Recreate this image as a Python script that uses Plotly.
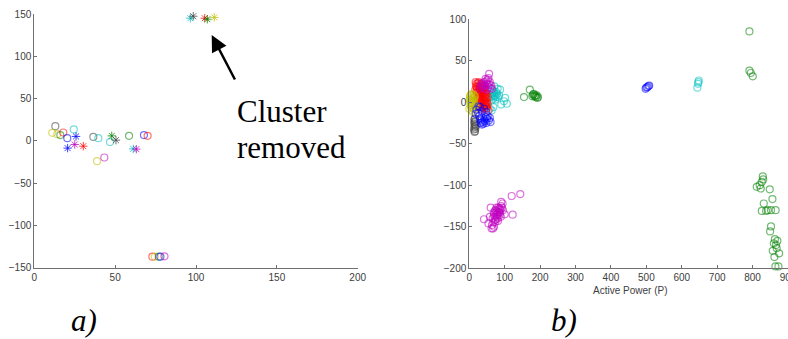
import plotly.graph_objects as go

W, H = 788, 339

# ---------------- data: panel a) ----------------
a_circle_pts = [(13.0, 17.4), (11.1, 9.5), (14.2, 7.9), (16.1, 6.8), (17.9, 9.9), (20.4, 3.2),
                (24.4, 13.5), (36.5, 4.7), (39.6, 3.2), (38.8, -24.0), (43.3, -19.7), (46.8, -1.5),
                (58.6, 5.9), (67.8, 6.8), (70.1, 5.9),
                (73.0, -137.0), (74.5, -137.0), (77.0, -137.0), (78.0, -137.0), (80.5, -136.5)]
a_circle_col = ["k", "y", "y", "g", "r", "b", "c", "k", "c", "y", "m", "c", "g", "b", "r",
                "r", "y", "g", "b", "m"]
a_star_pts = [(25.8, 5.2), (20.6, -8.6), (25.0, -4.3), (30.3, -6.3), (47.9, 5.9), (50.5, 0.8),
              (61.2, -9.5), (63.1, -9.8),
              (96.5, 145.0), (98.3, 147.4), (105.4, 145.0), (107.0, 143.8), (111.3, 146.0)]
a_star_col = ["b", "b", "m", "r", "g", "k", "c", "m", "c", "k", "r", "g", "y"]

a_xticks = [0, 50, 100, 150, 200]
a_yticks = [-150, -100, -50, 0, 50, 100, 150]

# ---------------- data: panel b) ----------------
b_red = [(20, 22), (24, 23), (27, 24), (30, 22), (33, 21), (36, 20), (39, 19), (42, 18), (22, 18), (26, 19),
         (29, 17), (32, 18), (35, 16), (38, 15), (41, 16), (44, 14), (21, 14), (25, 13), (28, 12), (31, 14),
         (34, 11), (37, 12), (40, 10), (43, 11), (46, 9), (23, 9), (27, 8), (30, 7), (33, 9), (36, 6),
         (39, 7), (42, 5), (45, 6), (48, 4), (26, 3), (29, 4), (32, 2), (35, 1), (38, 3), (41, 0),
         (44, 2), (47, -1), (50, 0), (28, -2), (32, -3), (36, -1), (40, -4), (44, -2), (48, -5), (52, -3),
         (32, -6), (37, -7), (42, -5), (47, -8), (35, -9), (40, -6), (45, -4), (50, -7), (54, -10),
         (17, 15), (19, 19), (22, 12), (18, 24), (48, 10), (52, 6), (24, 5)]
b_magenta = [(30, 16), (33, 20), (36, 18), (39, 22), (42, 24), (45, 20), (48, 25), (51, 22), (54, 18),
             (57, 21), (60, 17), (46, 28), (52, 27), (56, 34), (54, 29), (40, 19), (44, 16), (50, 15),
             (58, 24), (62, 20), (35, 23), (64, 16)]
b_magenta_low = [(66, -140), (70, -135), (74, -130), (78, -138), (82, -133), (86, -128), (90, -125),
                 (68, -145), (72, -142), (76, -136), (80, -140), (84, -132), (88, -130), (92, -127),
                 (64, -148), (70, -150), (74, -144), (78, -132), (82, -127), (86, -136), (71, -138),
                 (75, -141), (79, -135), (83, -129), (87, -133), (73, -131), (77, -127), (81, -143),
                 (69, -133), (89, -138), (95, -130),
                 (41.5, -141), (54, -146), (60.4, -127), (63, -152), (94, -122), (119.7, -113),
                 (144, -110.7), (122.5, -135.5), (100, -135), (58, -138), (90, -120), (67, -152)]
b_yellow = [(2, 6), (4, 2), (6, 8), (8, -2), (10, 4), (12, 0), (14, 6), (5, -6), (7, -10), (9, -4),
            (3, -1), (11, -8), (13, 2), (15, -3), (1, 3), (16, 7), (6, 10), (10, -12), (18, -5),
            (4, -4), (0, -8), (8, 5), (12, 9), (3, 8), (14, -8), (7, 0)]
b_black = [(14, -21), (15, -24), (16, -27), (15, -30), (17, -32), (16, -35), (14, -26), (18, -29),
           (13, -33), (17, -23), (15, -36), (16, -20)]
b_blue = [(30, -20), (34, -22), (38, -24), (42, -21), (46, -18), (50, -20), (36, -27), (40, -26),
          (44, -23), (48, -25), (52, -17), (32, -25), (55, -22), (58, -19), (60, -24), (28, -17),
          (20, -9), (25, -13), (30, -6), (35, -11), (18, -14), (42, -8), (48, -12), (26, -5),
          (498, 16), (506, 19.3), (503, 18), (508, 20), (500, 17.5)]
b_cyan = [(60, 6), (64, 10), (68, 4), (72, 8), (76, 12), (80, 6), (62, 2), (66, 14), (70, 12), (74, 3),
          (78, 10), (84, 8), (70, 7), (65, 7), (75, 6),
          (87, 15), (98, 1), (106, -2), (68, -6), (63, -10), (71, 19), (48, -3), (80, 16), (101, 5),
          (58, -8), (90, -3), (55, 14),
          (644, 17.3), (648, 26), (646, 22), (647, 24)]
b_green = [(154.5, 6), (171, 15), (180, 9), (184, 7), (188, 6), (192, 5), (182, 10), (186, 8),
           (178, 7), (190, 8), (194, 6),
           (791, 85), (791, 37.8), (795, 35), (800.5, 31),
           (828.8, -89.4), (811.8, -102), (823, -104), (826, -96), (848.5, -105), (856, -116.7),
           (831.6, -122), (826, -131), (843, -130), (852, -130), (865, -130), (838, -131),
           (852, -149.6), (849.5, -155.6), (870, -167), (860, -170), (866, -172), (875, -182),
           (857, -179), (861.6, -186.5), (864.5, -197.7), (873, -197.7), (868, -176), (863, -165),
           (830, -93), (820, -100)]

b_xticks = [0, 100, 200, 300, 400, 500, 600, 700, 800, 900]
b_yticks = [-200, -150, -100, -50, 0, 50, 100]

COL = {"r": "rgb(255,0,0)", "g": "rgb(0,128,0)", "b": "rgb(0,0,255)", "c": "rgb(0,191,191)",
       "m": "rgb(191,0,191)", "y": "rgb(191,191,0)", "k": "rgb(64,64,64)"}

fig = go.Figure()

# panel a
fig.add_trace(go.Scatter(x=[p[0] for p in a_circle_pts], y=[p[1] for p in a_circle_pts],
                         mode="markers", xaxis="x", yaxis="y", cliponaxis=False,
                         marker=dict(symbol="circle-open", size=7, opacity=0.55,
                                     color=[COL[c] for c in a_circle_col], line=dict(width=1.2))))
fig.add_trace(go.Scatter(x=[p[0] for p in a_star_pts], y=[p[1] for p in a_star_pts],
                         mode="markers", xaxis="x", yaxis="y", cliponaxis=False,
                         marker=dict(symbol="asterisk-open", size=7, opacity=0.75,
                                     color=[COL[c] for c in a_star_col], line=dict(width=1))))

# panel b
for pts, c in [(b_green, "g"), (b_cyan, "c"), (b_magenta_low, "m"), (b_red, "r"), (b_magenta, "m"),
               (b_yellow, "y"), (b_black, "k"), (b_blue, "b")]:
    fig.add_trace(go.Scatter(x=[p[0] for p in pts], y=[p[1] for p in pts], mode="markers",
                             xaxis="x2", yaxis="y2", cliponaxis=False,
                             marker=dict(symbol="circle-open", size=7, opacity=0.55,
                                         color=COL[c], line=dict(width=1.2))))

axis_common = dict(showgrid=False, zeroline=False, showline=True, linecolor="#707070", linewidth=1,
                   ticks="inside", ticklen=3, tickcolor="#707070", mirror=False, automargin=False,
                   tickfont=dict(family="Liberation Sans, Arial", size=10, color="#404040"))

fig.update_layout(
    width=W, height=H, margin=dict(l=0, r=0, t=0, b=0, autoexpand=False),
    paper_bgcolor="white", plot_bgcolor="white", showlegend=False,
    xaxis=dict(domain=[34.3 / W, 357.7 / W], range=[0, 200], tickvals=a_xticks, anchor="y", **axis_common),
    yaxis=dict(domain=[(H - 267.7) / H, (H - 14) / H], range=[-150, 150], tickvals=a_yticks,
               anchor="x", **axis_common),
    xaxis2=dict(domain=[469.3 / W, 1.0], range=[0, 900], tickvals=b_xticks, anchor="y2",
                ticklabeloverflow="allow", **axis_common),
    yaxis2=dict(domain=[(H - 268.3) / H, (H - 19) / H], range=[-200, 100], tickvals=b_yticks,
                anchor="x2", **axis_common),
)

def px(xp):
    return xp / W

def py(yp):
    return 1 - yp / H

ann = [
    dict(text="Active Power (P)", x=px(630), y=py(290), xref="paper", yref="paper",
         xanchor="center", yanchor="middle",
         showarrow=False, font=dict(family="Liberation Sans, Arial", size=10, color="#404040")),
    dict(text="Cluster", x=px(235), y=py(111), xref="paper", yref="paper", xanchor="left",
         yanchor="middle", showarrow=False, font=dict(family="Liberation Serif, Times New Roman", size=31, color="black")),
    dict(text="removed", x=px(235), y=py(148), xref="paper", yref="paper", xanchor="left",
         yanchor="middle", showarrow=False, font=dict(family="Liberation Serif, Times New Roman", size=31, color="black")),
    dict(text="<i>a)</i>", x=px(84), y=py(320), xref="paper", yref="paper",
         xanchor="center", yanchor="middle", borderpad=0,
         showarrow=False, font=dict(family="Liberation Serif, Times New Roman", size=31, color="black")),
    dict(text="<i>b)</i>", x=px(564), y=py(320), xref="paper", yref="paper",
         xanchor="center", yanchor="middle", borderpad=0,
         showarrow=False, font=dict(family="Liberation Serif, Times New Roman", size=31, color="black")),
    dict(text="", x=px(211.7), y=py(35), xref="paper", yref="paper", showarrow=True,
         ax=24, ay=46, axref="pixel", ayref="pixel", arrowhead=2, arrowsize=1.3, arrowwidth=2.5,
         arrowcolor="black"),
]
fig.update_layout(annotations=ann)

fig.write_html("out.html")
